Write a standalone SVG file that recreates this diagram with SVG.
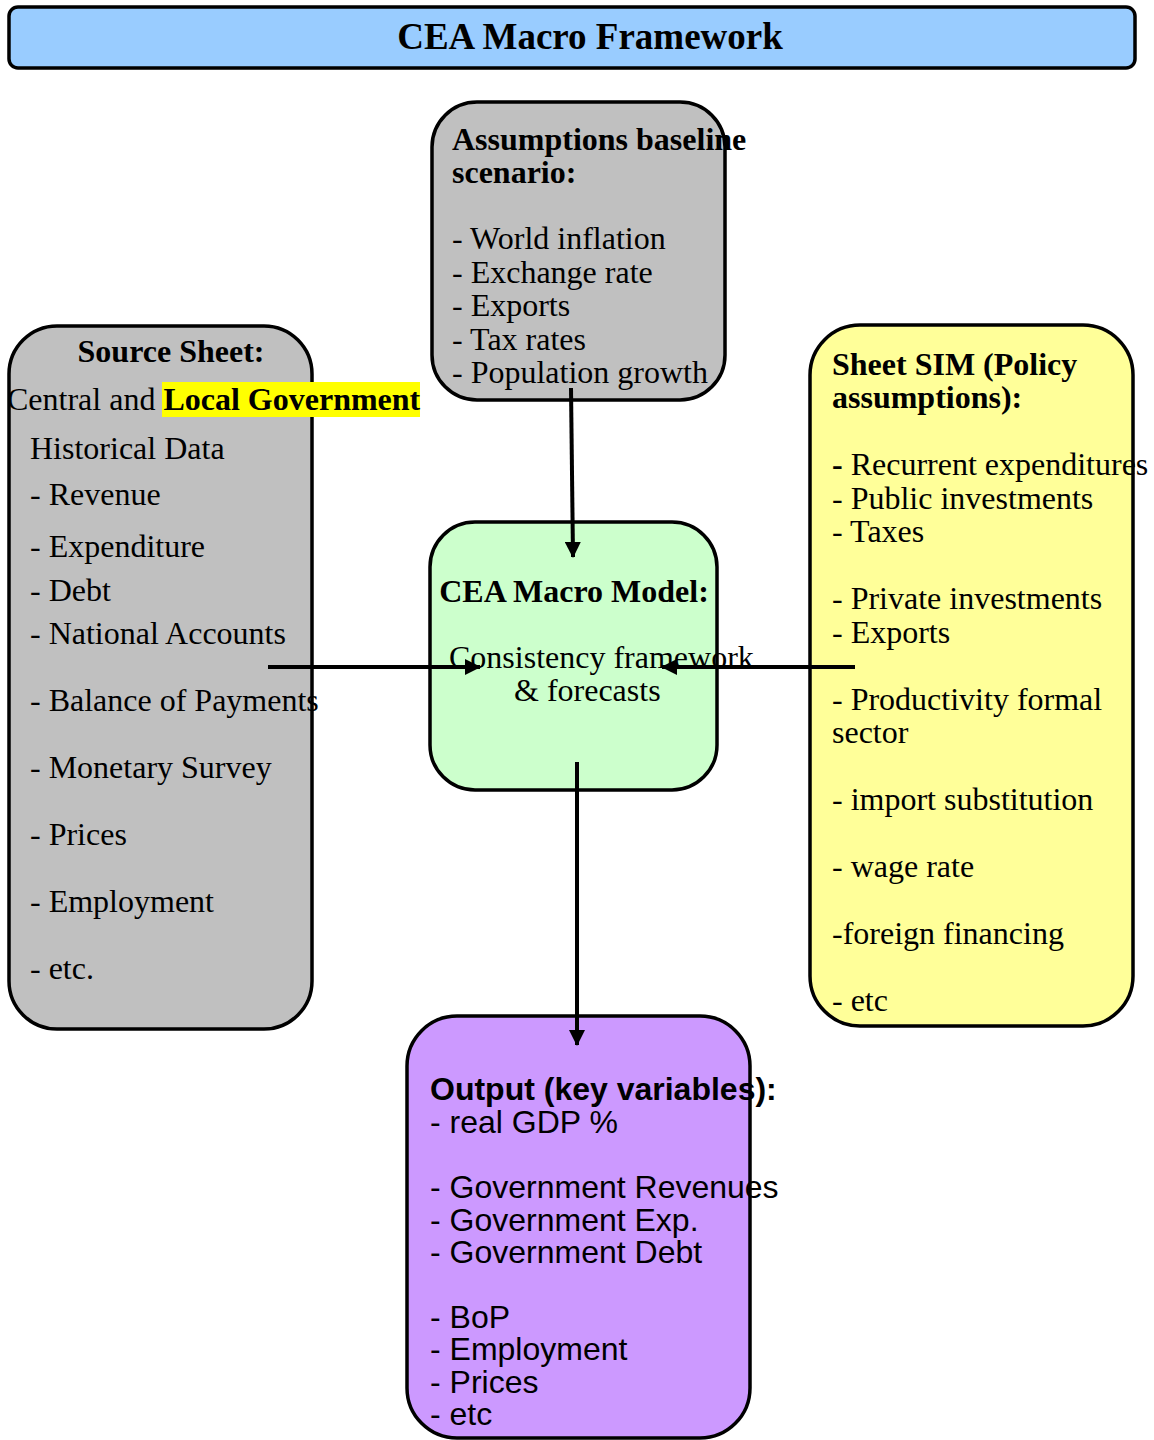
<svg xmlns="http://www.w3.org/2000/svg" width="1154" height="1440" viewBox="0 0 1154 1440">
<defs>
<style>
.box{stroke:#000;stroke-width:3.5}
.serif{font-family:"Liberation Serif","Times New Roman",serif;font-size:32px;fill:#000}
.sans{font-family:"Liberation Sans",Arial,sans-serif;font-size:32px;fill:#000}
.b{font-weight:bold}
.conn{stroke:#000;stroke-width:4;fill:none}
</style>
<marker id="arr" viewBox="0 0 16 16" refX="15" refY="8" markerWidth="16" markerHeight="16" markerUnits="userSpaceOnUse" orient="auto">
<path d="M0,0 L16,8 L0,16 z" fill="#000"/>
</marker>
</defs>
<rect width="1154" height="1440" fill="#fff"/>

<g id="title">
<rect class="box" x="9" y="7" width="1126" height="61" rx="9" fill="#99CCFF"/>
<text class="serif b" x="590" y="49" text-anchor="middle" style="font-size:37px">CEA Macro Framework</text>
</g>

<g id="assumptions">
<rect class="box" x="432" y="102" width="293" height="298" rx="45" fill="#C0C0C0"/>
<text class="serif b" x="452" y="150">Assumptions baseline</text>
<text class="serif b" x="452" y="183">scenario:</text>
<text class="serif" x="452" y="249">- World inflation</text>
<text class="serif" x="452" y="283">- Exchange rate</text>
<text class="serif" x="452" y="316">- Exports</text>
<text class="serif" x="452" y="350">- Tax rates</text>
<text class="serif" x="452" y="383">- Population growth</text>
</g>

<g id="source">
<rect class="box" x="9" y="326" width="303" height="703" rx="48" fill="#C0C0C0"/>
<text class="serif b" x="171" y="362" text-anchor="middle">Source Sheet:</text>
<rect x="162" y="382" width="258" height="35" fill="#FFFF00"/>
<text class="serif" x="7" y="410">Central and <tspan class="b">Local Government</tspan></text>
<text class="serif" x="30" y="459">Historical Data</text>
<text class="serif" x="30" y="505">- Revenue</text>
<text class="serif" x="30" y="557">- Expenditure</text>
<text class="serif" x="30" y="601">- Debt</text>
<text class="serif" x="30" y="644">- National Accounts</text>
<text class="serif" x="30" y="711">- Balance of Payments</text>
<text class="serif" x="30" y="778">- Monetary Survey</text>
<text class="serif" x="30" y="845">- Prices</text>
<text class="serif" x="30" y="912">- Employment</text>
<text class="serif" x="30" y="979">- etc.</text>
</g>

<g id="sim">
<rect class="box" x="810" y="325" width="323" height="701" rx="50" fill="#FFFF99"/>
<text class="serif b" x="832" y="375">Sheet SIM (Policy</text>
<text class="serif b" x="832" y="408">assumptions):</text>
<text class="serif" x="832" y="475"><tspan class="b">-</tspan> Recurrent expenditures</text>
<text class="serif" x="832" y="509">- Public investments</text>
<text class="serif" x="832" y="542">- Taxes</text>
<text class="serif" x="832" y="609">- Private investments</text>
<text class="serif" x="832" y="643">- Exports</text>
<text class="serif" x="832" y="710">- Productivity formal</text>
<text class="serif" x="832" y="743">sector</text>
<text class="serif" x="832" y="810">- import substitution</text>
<text class="serif" x="832" y="877">- wage rate</text>
<text class="serif" x="832" y="944">-foreign financing</text>
<text class="serif" x="832" y="1011">- etc</text>
</g>

<g id="model">
<rect class="box" x="430" y="522" width="287" height="268" rx="45" fill="#CCFFCC"/>
<text class="serif b" x="574" y="602" text-anchor="middle">CEA Macro Model:</text>
<text class="serif" x="449" y="668">Consistency framework</text>
<text class="serif" x="514" y="701">&amp; forecasts</text>
</g>

<g id="output">
<rect class="box" x="407" y="1016" width="343" height="422" rx="50" fill="#CC99FF"/>
<text class="sans b" x="430" y="1100">Output (key variables):</text>
<text class="sans" x="430" y="1133">- real GDP %</text>
<text class="sans" x="430" y="1198">- Government Revenues</text>
<text class="sans" x="430" y="1231">- Government Exp.</text>
<text class="sans" x="430" y="1263">- Government Debt</text>
<text class="sans" x="430" y="1328">- BoP</text>
<text class="sans" x="430" y="1360">- Employment</text>
<text class="sans" x="430" y="1393">- Prices</text>
<text class="sans" x="430" y="1425">- etc</text>
</g>

<g id="connectors">
<line class="conn" x1="571" y1="388" x2="573" y2="557" marker-end="url(#arr)"/>
<line class="conn" x1="268" y1="667" x2="480" y2="667" marker-end="url(#arr)"/>
<line class="conn" x1="855" y1="667" x2="662" y2="667" marker-end="url(#arr)"/>
<line class="conn" x1="577" y1="762" x2="577" y2="1045" marker-end="url(#arr)"/>
</g>
</svg>
